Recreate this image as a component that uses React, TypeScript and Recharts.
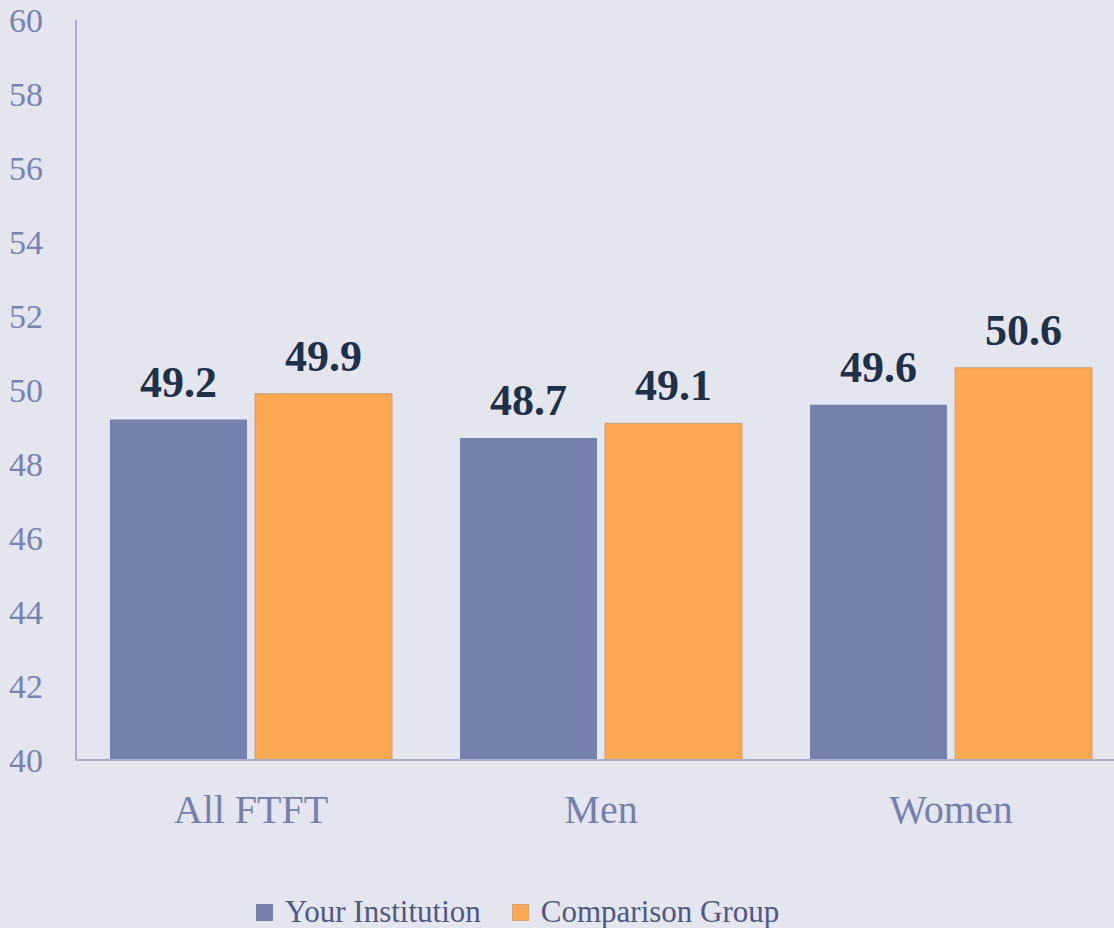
import React from 'react';
import { BarChart, Bar, XAxis, YAxis, Legend, LabelList } from 'recharts';

const categories = ['All FTFT', 'Men', 'Women'];
const yourInstitution = [49.2, 48.7, 49.6];
const comparisonGroup = [49.9, 49.1, 50.6];
const yTicks = [40, 42, 44, 46, 48, 50, 52, 54, 56, 58, 60];
const seriesNames = ['Your Institution', 'Comparison Group'];
const seriesColors = ['#7580AD', '#FFA851'];

const data = categories.map((c, i) => ({
  name: c,
  your: yourInstitution[i],
  comp: comparisonGroup[i],
}));

const FONT = 'Liberation Serif, serif';

const LegendContent = () => (
  <div style={{ display: 'flex', alignItems: 'center', height: 40, fontFamily: FONT }}>
    {seriesNames.map((n, i) => (
      <div key={n} style={{ display: 'flex', alignItems: 'center', marginRight: i === 0 ? 31 : 0 }}>
        <div style={{ width: 17, height: 17, background: seriesColors[i], marginRight: 12, boxSizing: 'border-box', border: i === 1 ? '1px solid #D9A070' : 'none' }} />
        <span style={{ fontSize: 31, color: '#4F5783', whiteSpace: 'nowrap' }}>{n}</span>
      </div>
    ))}
  </div>
);

export default function App() {
  return (
    <div style={{ position: 'absolute', left: 0, top: 0, width: 1114, height: 928, overflow: 'hidden', background: '#E3E6EE', fontFamily: FONT }}>
      <BarChart
        width={1140}
        height={928}
        data={data}
        margin={{ top: 20, right: 14, bottom: 0, left: 0 }}
        barCategoryGap={34}
        barGap={8}
        style={{ fontFamily: FONT }}
      >
        <YAxis
          domain={[40, 60]}
          ticks={yTicks}
          interval={0}
          width={76}
          tickLine={false}
          tickSize={0}
          tickMargin={33}
          axisLine={{ stroke: '#A8AECB', strokeWidth: 2 }}
          tick={{ fill: '#7983B0', fontSize: 34, fontFamily: FONT }}
          allowDataOverflow
        />
        <XAxis
          dataKey="name"
          height={128}
          tickLine={false}
          tickSize={0}
          tickMargin={35}
          axisLine={{ stroke: '#A8AECB', strokeWidth: 2 }}
          tick={{ fill: '#7580AD', fontSize: 40, fontFamily: FONT }}
        />
        <Legend
          verticalAlign="bottom"
          height={40}
          wrapperStyle={{ left: 256, top: 892, width: 'auto' }}
          content={<LegendContent />}
        />
        <Bar dataKey="your" name={seriesNames[0]} fill={seriesColors[0]} isAnimationActive={false}>
          <LabelList dataKey="your" position="top" offset={23} fill="#1F3049" fontSize={44} fontWeight="bold" fontFamily={FONT} />
        </Bar>
        <Bar dataKey="comp" name={seriesNames[1]} fill={seriesColors[1]} stroke="#C9A07E" strokeWidth={1} isAnimationActive={false}>
          <LabelList dataKey="comp" position="top" offset={23} fill="#1F3049" fontSize={44} fontWeight="bold" fontFamily={FONT} />
        </Bar>
      </BarChart>
    </div>
  );
}
